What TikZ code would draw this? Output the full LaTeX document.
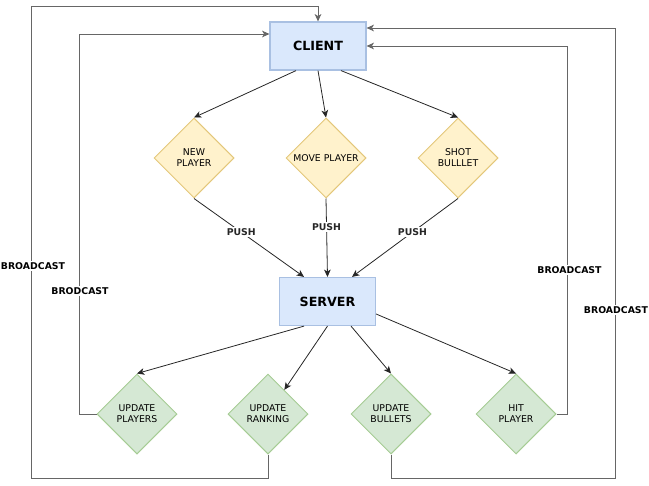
\documentclass[tikz,border=0pt]{standalone}
\usepackage{fontspec}
\setmainfont{DejaVu Sans}
\usetikzlibrary{shapes.geometric, arrows.meta, positioning, calc}
\definecolor{bluefill}{HTML}{DAE8FC}
\definecolor{bluedraw}{HTML}{A9C0E2}
\definecolor{yelfill}{HTML}{FFF2CC}
\definecolor{yeldraw}{HTML}{E3C77A}
\definecolor{grnfill}{HTML}{D5E8D4}
\definecolor{grndraw}{HTML}{A6CC94}
\begin{document}
\begin{tikzpicture}[x=0.75pt, y=-0.75pt,
    box/.style={draw=bluedraw, fill=bluefill, line width=0.9pt, minimum width=72pt, minimum height=36pt, inner sep=0pt, font=\fontsize{9.5}{11}\selectfont\bfseries},
    yel/.style={diamond, aspect=1, draw=yeldraw, fill=yelfill, line width=0.75pt, minimum width=60pt, minimum height=60pt, inner sep=0pt, align=center, font=\fontsize{7}{8.25}\selectfont},
    grn/.style={yel, draw=grndraw, fill=grnfill},
    lbl/.style={fill=white, inner sep=1pt, font=\fontsize{7}{8}\selectfont\bfseries},
    arr/.style={-{Stealth[length=5.5pt, width=5pt, inset=1.5pt]}, line width=0.6pt, black!85},
    bc/.style={arr, black!60}]
    \useasboundingbox (0,0) rectangle (649,485);
    \node[box] (client) at (318,46) {CLIENT};
    \node[yel] (newp)  at (194,158) {NEW\\PLAYER};
    \node[yel] (movep) at (326,158) {MOVE PLAYER};
    \node[yel] (shotb) at (458,158) {SHOT\\BULLLET};
    \node[box] (server) at (327.5,301.5) {SERVER};
    \node[grn] (updp) at (137,414) {UPDATE\\PLAYERS};
    \node[grn] (updr) at (268,414) {UPDATE\\RANKING};
    \node[grn] (updb) at (391,414) {UPDATE\\BULLETS};
    \node[grn] (hitp) at (516,414) {HIT\\PLAYER};
    \draw[arr] ($(client.south)+(-22,0)$) -- (newp.north);
    \draw[arr] (client.south) -- (movep.north);
    \draw[arr] ($(client.south)+(23,0)$) -- (shotb.north);
    \draw[arr] (newp.south) -- node[lbl, pos=0.43] (push1) {PUSH} ($(server.north)+(-23.5,0)$);
    \draw[arr] (movep.south) -- node[lbl, pos=0.36] (push2) {PUSH} (server.north);
    \draw[arr] (shotb.south) -- node[lbl, pos=0.43] (push3) {PUSH} ($(server.north)+(24.5,0)$);
    \draw[arr] ($(server.south)+(-23.5,0)$) -- (updp.north);
    \draw[arr] (server.south) -- (updr);
    \draw[arr] ($(server.south)+(23.5,0)$) -- (updb.north);
    \draw[arr] ($(server.east)+(0,12.5)$) -- (hitp.north);
    \draw[bc] (updp.west) -- ++(-17,0) |- ($(client.west)+(0,-12)$);
    \draw[bc] (updr.south) |- (31,478) -- (31,6) -| (client.north);
    \draw[bc] (updb.south) |- (615,478) |- ($(client.east)+(0,-18)$);
    \draw[bc] (hitp.east) -- ++(11,0) |- (client.east);
    \node[lbl] (bc1) at (80,291) {BRODCAST};
    \node[lbl] (bc2) at (33,266) {BROADCAST};
    \node[lbl] (bc3) at (569.5,270) {BROADCAST};
    \node[lbl] (bc4) at (616,310) {BROADCAST};
\end{tikzpicture}
\end{document}
